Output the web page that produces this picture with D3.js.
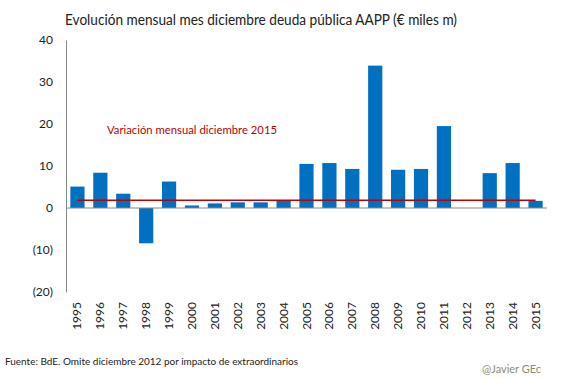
<!DOCTYPE html>
<html>
<head>
<meta charset="utf-8">
<script src="https://cdn.jsdelivr.net/npm/d3@7"></script>
<style>
    body { margin: 0; background: #fff; }
    text { font-family: Lato, "Open Sans", sans-serif; }
</style>
</head>
<body>
<div id="chart"></div>
<script>
const years = ['1995', '1996', '1997', '1998', '1999', '2000', '2001', '2002', '2003', '2004',
    '2005', '2006', '2007', '2008', '2009', '2010', '2011', '2012', '2013', '2014', '2015'];
// 2012 omitted (null)
const values = [5.1, 8.4, 3.4, -8.4, 6.3, 0.6, 1.1, 1.35, 1.35, 1.9,
    10.5, 10.7, 9.3, 33.9, 9.1, 9.3, 19.5, null, 8.3, 10.7, 1.7];
const yTicks = [40, 30, 20, 10, 0, -10, -20];
const refValue = 1.85;

const svgWidth = 567;
const svgHeight = 378;

const margin = { top: 40, left: 66, right: 20, bottom: 86 };

const svg = d3.select('#chart').append('svg')
    .attr('width', svgWidth)
    .attr('height', svgHeight);

const x = d3.scaleBand()
    .domain(years)
    .range([margin.left, 547])
    .paddingInner(0.38)
    .paddingOuter(0.19);

const y = d3.scaleLinear()
    .domain([-20, 40])
    .range([292, 40]);

// Title
svg.append('text')
    .attr('x', 65)
    .attr('y', 25)
    .style('font-size', '14.5px')
    .attr('fill', '#222')
    .attr('textLength', 392)
    .attr('lengthAdjust', 'spacingAndGlyphs')
    .text('Evolución mensual mes diciembre deuda pública AAPP (€ miles m)');

// Y axis
const yAxis = svg.append('g')
    .attr('transform', `translate(${margin.left},0)`)
    .call(d3.axisLeft(y).tickValues(yTicks).tickSize(0).tickPadding(13)
        .tickFormat(d => d < 0 ? `(${-d})` : d));
yAxis.select('.domain').attr('stroke', '#888');
yAxis.selectAll('text')
    .style('font-size', '12px')
    .style('font-family', 'Lato, sans-serif')
    .attr('fill', '#222');

// Bars
svg.selectAll('rect.bar')
    .data(years.map((yr, i) => ({ year: yr, value: values[i] })).filter(d => d.value !== null))
    .enter()
    .append('rect')
    .attr('class', 'bar')
    .attr('x', d => x(d.year))
    .attr('width', x.bandwidth())
    .attr('y', d => y(Math.max(0, d.value)))
    .attr('height', d => Math.abs(y(d.value) - y(0)))
    .attr('fill', '#0070C0');

// Zero baseline
svg.append('line')
    .attr('x1', margin.left)
    .attr('x2', 547)
    .attr('y1', y(0))
    .attr('y2', y(0))
    .attr('stroke', '#888')
    .attr('stroke-width', 1.2);

// Reference line
svg.append('line')
    .attr('x1', x(years[0]) + x.bandwidth() / 2)
    .attr('x2', x(years[years.length - 1]) + x.bandwidth() / 2)
    .attr('y1', y(refValue))
    .attr('y2', y(refValue))
    .attr('stroke', '#C00000')
    .attr('stroke-width', 1.5);

svg.append('text')
    .attr('x', 107)
    .attr('y', 134)
    .style('font-size', '11.5px')
    .attr('fill', '#C00000')
    .attr('textLength', 170)
    .attr('lengthAdjust', 'spacingAndGlyphs')
    .text('Variación mensual diciembre 2015');

// X labels
svg.selectAll('text.year')
    .data(years)
    .enter()
    .append('text')
    .attr('class', 'year')
    .attr('transform', d => `translate(${x(d) + x.bandwidth() / 2 + 4},302) rotate(-90)`)
    .style('text-anchor', 'end')
    .style('font-size', '12px')
    .attr('fill', '#222')
    .text(d => d);

// Footer
svg.append('text')
    .attr('x', 5)
    .attr('y', 365)
    .style('font-size', '9.5px')
    .attr('fill', '#222')
    .attr('textLength', 293)
    .attr('lengthAdjust', 'spacingAndGlyphs')
    .text('Fuente: BdE. Omite diciembre 2012 por impacto de extraordinarios');

svg.append('text')
    .attr('x', 482)
    .attr('y', 373)
    .style('font-size', '11px')
    .attr('fill', '#908a70')
    .text('@Javier GEc');
</script>
</body>
</html>
